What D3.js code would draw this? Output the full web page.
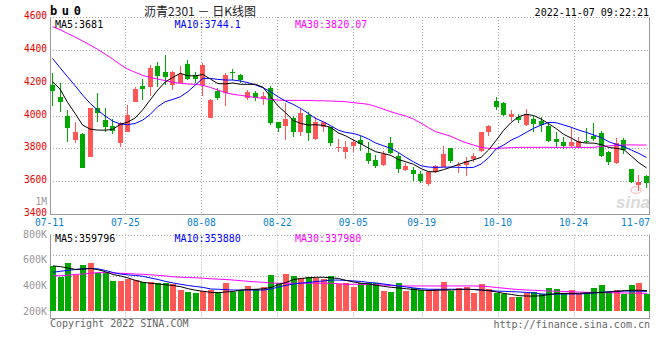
<!DOCTYPE html>
<html><head><meta charset="utf-8">
<script src="https://cdn.jsdelivr.net/npm/d3@7"></script>
<style>
body{margin:0;background:#fff;}
svg{display:block;}
text{font-family:"DejaVu Sans Mono",monospace;}
</style></head><body>
<svg id="c" width="660" height="360"></svg>
<script>
const dates = ["07-11","07-12","07-13","07-14","07-15","07-18","07-19","07-20","07-21","07-22",
"07-25","07-26","07-27","07-28","07-29","08-01","08-02","08-03","08-04","08-05",
"08-08","08-09","08-10","08-11","08-12","08-15","08-16","08-17","08-18","08-19",
"08-22","08-23","08-24","08-25","08-26","08-29","08-30","08-31","09-01","09-02",
"09-05","09-06","09-07","09-08","09-09","09-13","09-14","09-15","09-16",
"09-19","09-20","09-21","09-22","09-23","09-26","09-27","09-28","09-29","09-30",
"10-10","10-11","10-12","10-13","10-14","10-17","10-18","10-19","10-20","10-21",
"10-24","10-25","10-26","10-27","10-28","10-31","11-01","11-02","11-03","11-04","11-07"];
const open  = [4186,4115,3999,3851,3885,3749,4044,3972,3936,3830,3901,4084,4182,4176,4301,4267,4186,4200,4312,4247,
4186,3987,4149,4135,4264,4247,4109,4135,4098,4170,3958,3938,3983,3897,4003,3857,3932,3932,3800,3780,
3816,3851,3773,3729,3698,3834,3753,3668,3668,3643,3582,3654,3688,3800,3692,3698,3735,3784,3901,4088,
4074,3993,3993,3942,3978,3966,3938,3857,3838,3814,3806,3844,3877,3891,3780,3708,3851,3674,3576,3631];
const high  = [4261,4196,4034,3962,3891,4048,4135,4048,3978,3962,4064,4176,4222,4308,4328,4369,4271,4303,4338,4265,
4322,4100,4165,4257,4283,4253,4155,4149,4141,4182,3962,4078,3999,4044,4023,3993,3962,3932,3857,3845,
3857,3877,3840,3759,3784,3867,3769,3713,3688,3664,3664,3698,3814,3804,3714,3745,3773,3897,3942,4115,
4080,4033,4007,4040,3997,3993,3962,3897,3867,3928,3867,3922,3956,3905,3784,3861,3861,3674,3637,3637];
const low   = [4060,4023,3840,3830,3678,3749,3962,3897,3887,3810,3897,4080,4094,4121,4176,4186,4155,4195,4216,4200,
4121,3983,4094,4060,4216,4196,4094,4088,4064,3942,3897,3851,3871,3877,3845,3851,3897,3816,3775,3735,
3780,3784,3704,3678,3694,3763,3648,3662,3603,3587,3572,3648,3684,3708,3648,3633,3719,3775,3877,4033,
3999,3966,3952,3938,3897,3901,3836,3800,3794,3800,3800,3830,3844,3749,3698,3704,3763,3591,3542,3556];
const close = [4149,4084,3922,3897,3682,4044,4013,3932,3907,3952,4003,4161,4161,4291,4241,4237,4263,4255,4222,4225,
4308,4094,4109,4247,4261,4216,4141,4104,4119,3952,3926,3978,3901,4013,3891,3962,3962,3830,3808,3810,
3840,3824,3725,3694,3763,3769,3672,3692,3643,3603,3654,3694,3765,3725,3698,3725,3753,3897,3938,4050,
4003,4009,3972,4007,3948,3942,3844,3840,3814,3840,3846,3838,3857,3755,3719,3834,3790,3597,3597,3587];
const ma5  = [4206,4161,4080,4013,3942,3917,3911,3911,3915,3946,3960,3985,4035,4095,4155,4205,4232,4257,4242,4241,
4250,4222,4194,4193,4198,4190,4190,4190,4172,4115,4058,4017,3970,3952,3942,3944,3940,3928,3894,3876,
3851,3828,3802,3779,3769,3757,3732,3718,3703,3677,3658,3657,3670,3685,3702,3717,3730,3745,3790,3848,
3910,3958,3993,4007,4000,3978,3950,3920,3885,3862,3838,3832,3832,3822,3805,3800,3792,3752,3712,3681];
const ma10 = [4348,4291,4236,4182,4125,4074,4033,3997,3966,3948,3944,3952,3972,4007,4054,4084,4098,4114,4145,4186,
4226,4226,4220,4216,4216,4210,4200,4186,4169,4145,4114,4088,4068,4043,4013,3982,3962,3938,3911,3897,
3891,3877,3857,3832,3816,3800,3775,3745,3718,3694,3686,3684,3685,3686,3684,3682,3684,3704,3743,3796,
3820,3850,3871,3897,3922,3942,3958,3956,3942,3928,3911,3897,3881,3865,3840,3824,3810,3789,3769,3744.1];
const ma30 = [4541,4523,4500,4478,4454,4429,4403,4374,4344,4311,4283,4263,4244,4232,4222,4212,4202,4196,4192,4190,
4184,4171,4155,4139,4129,4123,4116,4110,4104,4098,4094,4092,4092,4092,4092,4090,4090,4088,4086,4084,
4078,4074,4068,4055,4039,4023,4009,3997,3978,3954,3926,3901,3887,3873,3852,3834,3820,3806,3800,3800,
3802,3804,3806,3806,3806,3806,3806,3806,3806,3806,3806,3806,3806,3812,3815,3818,3820,3821,3820,3820.07];
const volume = [552,468,578,482,560,578,495,507,435,435,450,442,424,424,417,417,409,364,351,343,
356,364,351,421,351,364,396,372,390,484,417,489,476,456,464,456,448,476,411,421,
390,421,421,417,359,351,421,359,378,364,364,372,429,359,382,390,343,411,370,343,
335,312,312,343,351,331,382,370,338,364,331,351,382,406,351,364,335,406,421,335].map(v=>v*1000);
const vma5 = [553,547,536,525,529,534,523,507,485,474,458,439,424,417,411,405,399,390,374,362,
354,346,343,349,353,364,368,370,374,384,407,423,446,454,460,464,464,460,454,439,
427,417,411,401,393,385,380,374,368,364,360,362,364,364,368,370,368,364,359,349,
337,329,320,317,317,319,329,337,338,338,338,341,343,345,349,354,359,362,362,359.796].map(v=>v*1000);
const vma10 = [503,511,518,525,529,532,529,517,501,489,482,478,471,458,446,431,419,409,399,392,
384,372,370,367,364,364,364,364,364,372,388,401,411,419,423,431,435,442,442,439,
435,431,423,419,411,403,396,388,380,374,370,370,370,370,370,370,368,364,360,356,
354,351,349,345,341,333,331,332,333,333,333,337,341,346,351,354,356,356,355,353.88].map(v=>v*1000);
const vma30 = [476,476,480,486,489,495,500,500,497,495,493,489,487,483,479,474,468,464,462,460,
456,452,449,446,442,437,432,428,424,419,417,417,417,417,417,417,417,417,413,409,
409,409,407,405,403,399,396,396,396,396,396,396,396,396,396,396,396,394,390,384,
378,372,368,364,362,359,356,354,353,350,348,346,345,344,343,342,341,340,339,337.98].map(v=>v*1000);
const priceTicks = [4600,4400,4200,4000,3800,3600,3400];
const volTicks = [800000,600000,400000,200000];
const dateTicks = ["07-11","07-25","08-08","08-22","09-05","09-19","10-10","10-24","11-07"];
const priceMA = [["MA5:3681","#000"],["MA10:3744.1","#0000ff"],["MA30:3820.07","#ff00ff"]];
const volMA = [["MA5:359796","#000"],["MA10:353880","#0000ff"],["MA30:337980","#ff00ff"]];

const RED="#ff5656", GREEN="#00a800", GRID="#a8a8a8", BORDER="#999";
const L=50, R=650, mTop=17, mBot=214, vTop=234.5, vBot=318;
const svg = d3.select("#c");
const idx = d3.range(close.length);
const xb = d3.scaleBand().domain(idx).range([L,R]).paddingInner(0.2).paddingOuter(0).align(0);
const xt = d3.scalePoint().domain(idx).range([L-0.5,R-0.5]);
const y = d3.scaleLinear().domain([3400,4600]).range([mBot,mTop]);
const yv = d3.scaleLinear().domain([200000,800000]).range([311,234.3]);
const px = v => Math.round(v)+0.5;

const g = svg.append("g");
priceTicks.forEach((t,k)=>{
  const yy = px(y(t));
  g.append("line").attr("x1",L).attr("x2",R).attr("y1",yy).attr("y2",yy)
   .attr("stroke", t===3400?BORDER:GRID).attr("stroke-dasharray", t===3400?null:"1,2");
});
[0,1,2,3].forEach(k=>{
  const yy = px(vTop + (vBot-vTop)*k/4);
  g.append("line").attr("x1",L).attr("x2",R).attr("y1",yy).attr("y2",yy)
   .attr("stroke",GRID).attr("stroke-dasharray","1,2");
});
g.append("line").attr("x1",L).attr("x2",R).attr("y1",px(vBot)).attr("y2",px(vBot)).attr("stroke",BORDER);
const tickIdx = dateTicks.map(d=>dates.indexOf(d));
tickIdx.forEach((ti,k)=>{
  if(k===0||k===tickIdx.length-1) return;
  const xx = px(xt(ti));
  g.append("line").attr("x1",xx).attr("x2",xx).attr("y1",mTop).attr("y2",mBot).attr("stroke",GRID).attr("stroke-dasharray","1,2");
  g.append("line").attr("x1",xx).attr("x2",xx).attr("y1",vTop).attr("y2",vBot).attr("stroke",GRID).attr("stroke-dasharray","1,2");
});
[[L+0.5,mTop,mBot],[R-0.5,mTop,mBot],[L+0.5,vTop,vBot],[R-0.5,vTop,vBot]].forEach(([x,a,b])=>{
  g.append("line").attr("x1",x).attr("x2",x).attr("y1",a).attr("y2",b+0.5).attr("stroke",BORDER);
});

const wm = svg.append("g").attr("opacity",0.55);
wm.append("text").attr("x",650).attr("y",208).attr("text-anchor","end")
  .style("font-family","Liberation Sans, sans-serif").style("font-style","italic").style("font-weight","bold")
  .style("font-size","17px").attr("fill","#bbb").text("sina");
wm.append("ellipse").attr("cx",636).attr("cy",190).attr("rx",5).attr("ry",3.5).attr("fill","none").attr("stroke","#f4a0a0").attr("stroke-width",1.5);

const cg = svg.append("g");
idx.forEach(i=>{
  const x0 = Math.round(xb(i));
  const up = close[i] >= open[i];
  const col = up?RED:GREEN;
  cg.append("rect").attr("x",x0+2).attr("width",1)
    .attr("y",Math.round(y(high[i]))).attr("height",Math.max(1,Math.round(y(low[i]))-Math.round(y(high[i]))))
    .attr("fill",col);
  const t = Math.round(y(Math.max(open[i],close[i]))), b = Math.round(y(Math.min(open[i],close[i])));
  cg.append("rect").attr("x",x0).attr("width",5).attr("y",t).attr("height",Math.max(1,b-t)).attr("fill",col);
});
const lineP = d3.line().x((d,i)=>xb(i)+2.5).y(d=>y(d));
[[ma30,"#ff00ff"],[ma10,"#0000ff"],[ma5,"#000"]].forEach(([arr,c])=>{
  svg.append("path").attr("d",lineP(arr)).attr("fill","none").attr("stroke",c).attr("stroke-width",1);
});
idx.forEach(i=>{
  const x0 = Math.round(xb(i));
  const col = close[i] >= open[i] ? RED : GREEN;
  const t = Math.round(yv(volume[i]));
  svg.append("rect").attr("x",x0).attr("width",6).attr("y",t).attr("height",311-t).attr("fill",col);
});
const lineV = d3.line().x((d,i)=>xb(i)+3).y(d=>yv(d));
[[vma30,"#ff00ff"],[vma10,"#0000ff"],[vma5,"#000"]].forEach(([arr,c])=>{
  svg.append("path").attr("d",lineV(arr)).attr("fill","none").attr("stroke",c).attr("stroke-width",1);
});

const T = (x,yy,s,opt={})=>{
  const t = svg.append("text").attr("x",x).attr("y",yy).text(s)
    .attr("fill",opt.fill||"#000").attr("text-anchor",opt.anchor||"start")
    .attr("dominant-baseline","central").style("font-size",(opt.size||10)+"px");
  if(opt.family) t.style("font-family",opt.family);
  if(opt.weight) t.style("font-weight",opt.weight);
  if(opt.ls) t.style("letter-spacing",opt.ls);
  return t;
};
priceTicks.forEach(t=>T(47,y(t)-1.5,String(t),{fill:"#e60000",anchor:"end",size:9.6}));
T(47,201,"1M",{fill:"#999",anchor:"end",size:9.6});
volTicks.forEach(t=>T(47,yv(t),(t/1000)+"K",{fill:"#999",anchor:"end",size:10}));
tickIdx.forEach((ti,k)=>{
  let x = xt(ti);
  let anchor = "middle";
  if(k===tickIdx.length-1){ x = R; anchor="end"; }
  T(x,222.5,dateTicks[k],{fill:"#0a7fd0",anchor,size:9.6});
});
const maX = [55,174.5,295];
priceMA.forEach(([s,c],k)=>T(maX[k],24,s,{fill:c,size:10}));
volMA.forEach(([s,c],k)=>T(maX[k],238.5,s,{fill:c,size:10}));
T(50,11,"bu0",{size:12,weight:"bold",ls:"4.6px"});
T(200,10.5,"沥青2301 － 日K线图",{anchor:"middle",size:12,fill:"#222",family:"'Noto Sans CJK SC',sans-serif"});
T(649,12,"2022-11-07 09:22:21",{anchor:"end",size:10});
T(50,323.5,"Copyright 2022 SINA.COM",{fill:"#666",size:10});
T(650,324,"http://finance.sina.com.cn",{fill:"#666",anchor:"end",size:10});
</script></body></html>
